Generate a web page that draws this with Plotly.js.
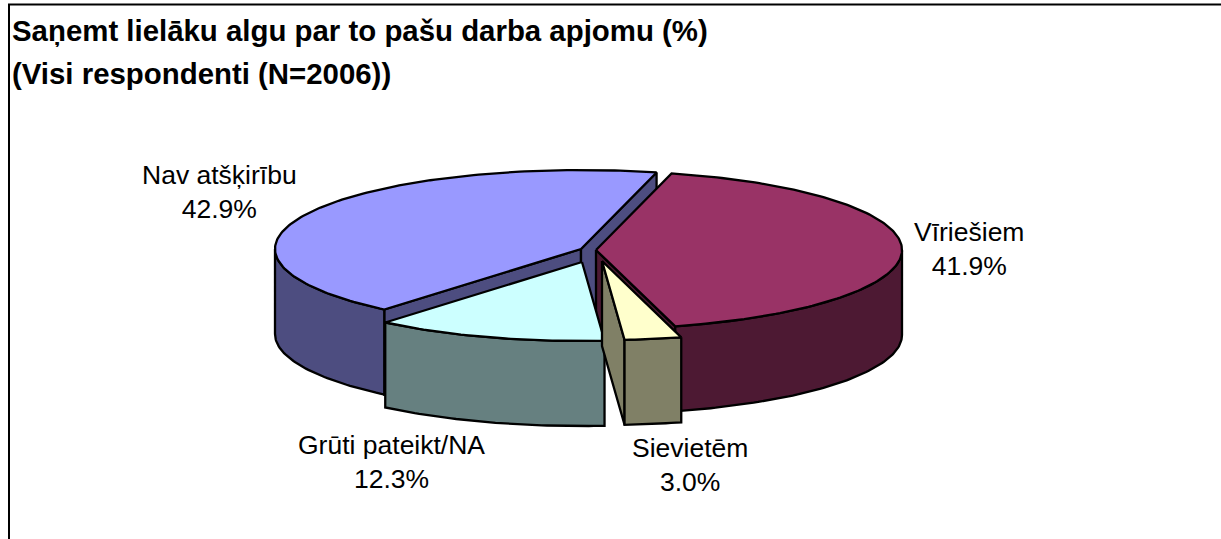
<!DOCTYPE html>
<html>
<head>
<meta charset="utf-8">
<script src="https://cdn.plot.ly/plotly-3.0.1.min.js"></script>
<style>html,body{margin:0;padding:0;background:#fff}#chart{width:1221px;height:539px}</style>
</head>
<body>
<div id="chart"></div>
<script>
const categories = ["Vīriešiem", "Sievietēm", "Grūti pateikt/NA", "Nav atšķirību"];
const shares = [41.9, 3.0, 12.3, 42.9];
const valueLabels = ["41.9%", "3.0%", "12.3%", "42.9%"];
const topColors = ["#993366", "#FFFFCC", "#CCFFFF", "#9999FF"];
const sideColors = ["#4D1933", "#808066", "#668080", "#4D4D80"];
const titleLines = ["Saņemt lielāku algu par to pašu darba apjomu (%)", "(Visi respondenti (N=2006))"];

// pie projection, in pixel-scaled axis units
const RX = 306, RY = 79, DEPTH = 85, START = 14.3;
const hubs = [[596, 250], [602, 261], [582, 262], [581, 249]];
const labelAt = [[969, 249], [690, 465], [391, 462], [219, 192]];
const paintOrder = [3, 0, 2, 1];

const total = shares.reduce((a, b) => a + b, 0);
let acc = START;
const spans = shares.map(v => { const a = acc; acc += v / total * 360; return [a, acc]; });

const rim = (hub, deg, drop) => {
  const t = deg * Math.PI / 180;
  return [hub[0] + RX * Math.sin(t), hub[1] - RY * Math.cos(t) + drop];
};
const arc = (hub, a, b, drop) => {
  const out = [];
  const n = Math.max(2, Math.ceil(Math.abs(b - a)));
  for (let i = 0; i <= n; i++) out.push(rim(hub, a + (b - a) * i / n, drop));
  return out;
};
const poly = (pts, color, name) => ({
  type: "scatter", mode: "lines", name,
  x: pts.map(p => p[0]).concat(pts[0][0]),
  y: pts.map(p => p[1]).concat(pts[0][1]),
  fill: "toself", fillcolor: color,
  line: {color: "#000", width: 2.3, shape: "linear"},
  hoverinfo: "name", showlegend: false
});
const cutFace = (hub, deg) => {
  const p = rim(hub, deg, 0);
  return [hub, p, [p[0], p[1] + DEPTH], [hub[0], hub[1] + DEPTH]];
};
const norm = d => ((d % 360) + 360) % 360;

const traces = [];
paintOrder.forEach(i => {
  const hub = hubs[i], [a, b] = spans[i], name = categories[i];
  // only the cut faces that turn towards the viewer
  if (norm(a) > 180) traces.push(poly(cutFace(hub, a), sideColors[i], name));
  if (norm(b) < 180) traces.push(poly(cutFace(hub, b), sideColors[i], name));
  // outer wall: only the part on the front half
  const f0 = Math.max(a, 90), f1 = Math.min(b, 270);
  if (f1 > f0) {
    const wall = arc(hub, f0, f1, 0).concat(arc(hub, f1, f0, DEPTH));
    traces.push(poly(wall, sideColors[i], name));
  }
  traces.push(poly([hub].concat(arc(hub, a, b, 0)), topColors[i], name));
});

const annotations = categories.map((c, i) => ({
  x: labelAt[i][0], y: labelAt[i][1], xref: "x", yref: "y",
  text: c + "<br>" + valueLabels[i], showarrow: false,
  xanchor: "center", yanchor: "middle", align: "center",
  font: {family: "Liberation Sans, Arial, sans-serif", size: 26.5, color: "#000"}
}));

const layout = {
  width: 1221, height: 539,
  margin: {l: 0, r: 0, t: 0, b: 0},
  paper_bgcolor: "#fff", plot_bgcolor: "#fff",
  showlegend: false,
  title: {
    text: titleLines.map(t => '<span style="font-size:29.4px">' + t + "</span>").join("<br>"),
    x: 12 / 1221, xanchor: "left", y: 1 - 41 / 539, yanchor: "top", xref: "container", yref: "container",
    font: {family: "Liberation Sans, Arial, sans-serif", size: 32.8, color: "#000", weight: 700}
  },
  xaxis: {range: [0, 1221], visible: false, fixedrange: true},
  yaxis: {range: [539, 0], visible: false, fixedrange: true},
  annotations,
  shapes: [{
    type: "path", xref: "x", yref: "y",
    path: "M 9 539 L 9 4.5 L 1221 4.5",
    line: {color: "#000", width: 2}
  }]
};
Plotly.newPlot("chart", traces, layout, {displayModeBar: false, staticPlot: true});
</script>
</body>
</html>
